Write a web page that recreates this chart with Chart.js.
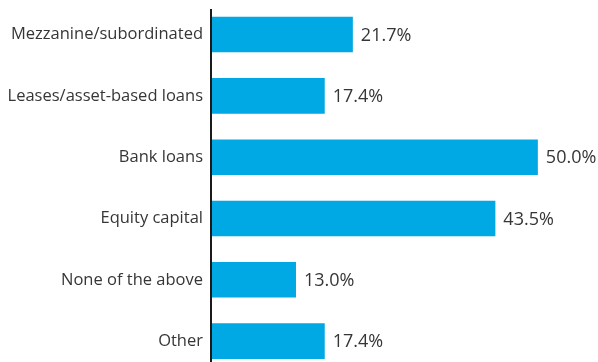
<!DOCTYPE html>
<html><head><meta charset="utf-8">
<script src="https://cdn.jsdelivr.net/npm/chart.js@4"></script>
<style>html,body{margin:0;padding:0;background:#fff;overflow:hidden}#wrap{width:598px;height:362px;position:relative}</style>
</head><body><div id="wrap"><canvas id="c"></canvas></div>
<script>
// Sources of financing, share of respondents (%)
const categories = ['Mezzanine/subordinated', 'Leases/asset-based loans', 'Bank loans', 'Equity capital', 'None of the above', 'Other'];
const shares = [21.7, 17.4, 50.0, 43.5, 13.0, 17.4];
const valueLabels = ['21.7%', '17.4%', '50.0%', '43.5%', '13.0%', '17.4%'];

// Writes the percentage just past the end of each bar
const valueLabelPlugin = {
  id: 'valueLabels',
  afterDatasetsDraw(chart) {
    const ctx = chart.ctx;
    const meta = chart.getDatasetMeta(0);
    ctx.save();
    ctx.font = '18px "Open Sans"';
    ctx.fillStyle = '#363636';
    ctx.textAlign = 'left';
    ctx.textBaseline = 'middle';
    meta.data.forEach((bar, i) => {
      ctx.fillText(valueLabels[i], bar.x + 8, bar.y + 1);
    });
    ctx.restore();
  }
};

new Chart(document.getElementById('c'), {
  type: 'bar',
  data: {
    datasets: [{
      data: shares.map((v, i) => ({ x: v, y: i })),
      backgroundColor: '#00A9E3',
      borderWidth: 0,
      categoryPercentage: 1,
      barPercentage: 0.58
    }]
  },
  options: {
    indexAxis: 'y',
    responsive: true,
    maintainAspectRatio: false,
    animation: false,
    layout: { padding: { top: 10, right: 0, bottom: 0, left: 0 } },
    plugins: { legend: { display: false }, tooltip: { enabled: false } },
    scales: {
      x: { type: 'linear', min: 0, max: 59.2, display: false },
      y: {
        type: 'linear',
        reverse: true,
        offset: false,
        min: -0.4,
        max: 5.34,
        afterBuildTicks: axis => { axis.ticks = categories.map((_, i) => ({ value: i })); },
        afterFit: axis => { axis.width = 211; axis.paddingTop = 0; axis.paddingBottom = 0; },
        grid: { display: false, drawTicks: false, offset: false },
        border: { display: true, color: '#1a1a1a', width: 2, z: 1 },
        ticks: {
          padding: 8,
          color: '#363636',
          font: { family: 'Open Sans', size: 16.5 },
          autoSkip: false,
          callback: v => categories[v]
        }
      }
    }
  },
  plugins: [valueLabelPlugin]
});
</script></body></html>
